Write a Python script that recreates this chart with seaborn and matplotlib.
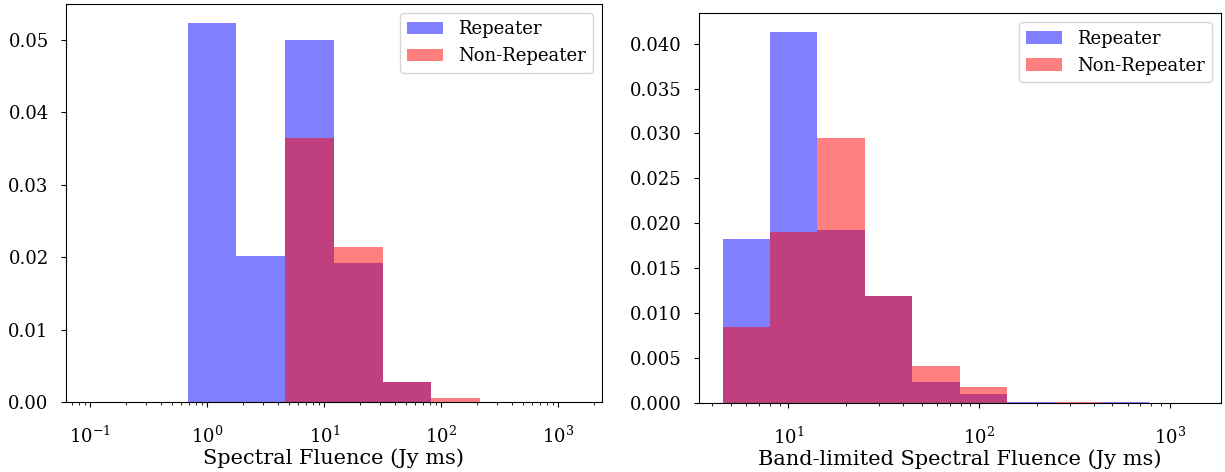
import numpy as np
import pandas as pd
import seaborn as sns
import matplotlib
matplotlib.use("Agg")
import matplotlib.pyplot as plt

# ---- data ----
# Left panel: Spectral Fluence bins (Jy ms)
left_edges = [0.1, 0.2606, 0.681, 1.774, 4.624, 12.08, 31.48, 82.0, 213.8, 558.5, 1455.0]
left_repeater = [0.0, 0.0, 0.0523, 0.0201, 0.0499, 0.0192, 0.0028, 0.0, 0.0, 0.0]
left_nonrepeater = [0.0, 0.0, 0.0, 0.0, 0.0364, 0.0214, 0.0028, 0.0006, 0.0, 0.0]

# Right panel: Band-limited Spectral Fluence bins (Jy ms)
right_edges = [4.529, 8.025, 14.22, 25.2, 44.67, 79.2, 140.3, 248.6, 440.6, 780.8, 1384.0]
right_repeater = [0.0183, 0.0413, 0.0193, 0.0119, 0.0024, 0.0010, 0.00012, 0.00006, 0.00010, 0.0]
right_nonrepeater = [0.0085, 0.0190, 0.0295, 0.0119, 0.0042, 0.0018, 0.00004, 0.00012, 0.0, 0.0]

series_labels = ["Repeater", "Non-Repeater"]
series_colors = ["blue", "red"]

plt.rcParams["font.family"] = ["DejaVu Serif"]
plt.rcParams["mathtext.fontset"] = "dejavuserif"
plt.rcParams["xtick.labelsize"] = 13
plt.rcParams["ytick.labelsize"] = 13
plt.rcParams["xtick.major.pad"] = 13.5
plt.rcParams["ytick.major.pad"] = 9

fig = plt.figure(figsize=(12.25, 4.72), dpi=100)
W, H = 1225, 472
ax1 = fig.add_axes([66 / W, (H - 402) / H, (601.7 - 66) / W, (402 - 4) / H])
ax2 = fig.add_axes([699 / W, (H - 403.3) / H, (1220.7 - 699) / W, (403.3 - 13.3) / H])


def draw(ax, edges, series, xlabel, xlim):
    edges = [float(e) for e in edges]
    centers = [float(np.sqrt(a * b)) for a, b in zip(edges[:-1], edges[1:])]
    for vals, lab, col in zip(series, series_labels, series_colors):
        df = pd.DataFrame({"x": centers, "w": vals})
        sns.histplot(data=df, x="x", weights="w", bins=edges, stat="count",
                     color=col, alpha=0.5, linewidth=0, label=lab, ax=ax)
    ax.set_xscale("log")
    ax.set_xlim(*xlim)
    ax.set_ylabel("")
    ax.set_xlabel(xlabel, fontsize=15, labelpad=1)
    ax.legend(loc="upper right", fontsize=13)


draw(ax1, left_edges, [left_repeater, left_nonrepeater],
     "Spectral Fluence (Jy ms)", (10 ** -1.208, 10 ** 3.371))
draw(ax2, right_edges, [right_repeater, right_nonrepeater],
     "Band-limited Spectral Fluence (Jy ms)", (10 ** 0.532, 10 ** 3.266))

fig.savefig("out.png", dpi=100)
